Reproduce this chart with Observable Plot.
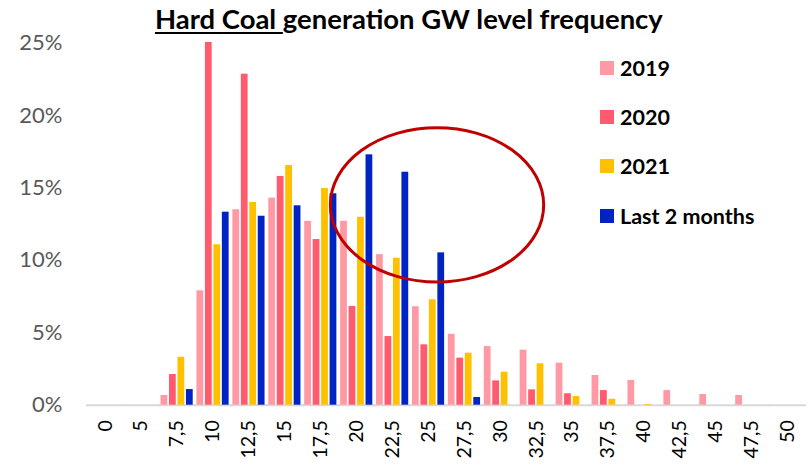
<!DOCTYPE html>
<html>
<head>
<meta charset="utf-8">
<script src="https://cdn.jsdelivr.net/npm/d3@7"></script>
<script src="https://cdn.jsdelivr.net/npm/@observablehq/plot@0.6"></script>
<style>
  html, body { margin: 0; padding: 0; background: #fff; }
  #wrap { position: relative; width: 810px; height: 464px; font-family: Lato, "Open Sans", sans-serif; overflow: hidden; }
  #title { position: absolute; top: 0; left: 155px; height: 38px; line-height: 38px; font-weight: bold; white-space: nowrap; color: #000; z-index: 2; }
  #title .u { text-decoration: underline; text-decoration-thickness: 2px; text-underline-offset: 3px; }
  #chart { position: absolute; top: 0; left: 0; }
  .lg { position: absolute; font-weight: bold; font-size: 21.5px; color: #000; white-space: nowrap; z-index: 2; }
  .sw { position: absolute; width: 14px; height: 14px; z-index: 2; }
</style>
</head>
<body>
<div id="wrap">
  <div id="title"><span class="u">Hard Coal </span>generation GW level frequency</div>
  <div id="chart"></div>
</div>
<script>
// ---- data ----
const titleText = "Hard Coal generation GW level frequency";
const categories = ["0","5","7,5","10","12,5","15","17,5","20","22,5","25","27,5","30","32,5","35","37,5","40","42,5","45","47,5","50"];
const series = ["2019", "2020", "2021", "Last 2 months"];
const colors = ["#ff9aa4", "#ff5a6e", "#ffc000", "#0024c4"];
const v2019 = [0, 0, 0.67, 7.9, 13.5, 14.3, 12.7, 12.7, 10.4, 6.8, 4.9, 4.05, 3.8, 2.9, 2.05, 1.71, 1.01, 0.74, 0.67, 0];
const v2020 = [0, 0, 2.12, 25.05, 22.86, 15.8, 11.44, 6.82, 4.74, 4.17, 3.25, 1.68, 1.06, 0.79, 1.01, 0, 0, 0, 0, 0];
const v2021 = [0, 0, 3.31, 11.08, 14.0, 16.55, 14.96, 12.98, 10.15, 7.28, 3.59, 2.28, 2.86, 0.6, 0.41, 0.05, 0, 0, 0, 0];
const vLast = [0, 0, 1.08, 13.33, 13.05, 13.77, 14.6, 17.29, 16.09, 10.52, 0.53, 0, 0, 0, 0, 0, 0, 0, 0, 0];
const yTicks = [0, 5, 10, 15, 20, 25];
// highlighted region (annotation ellipse), in data terms
const annoCat = "25", annoShift = 0.25, annoY = 13.8, annoRxSteps = 2.97, annoRy = 5.33;

// ---- build ----
const valuesBySeries = [v2019, v2020, v2021, vLast];
const data = categories.flatMap((c, i) => series.map((s, j) => ({cat: c, series: s, value: valuesBySeries[j][i]})));

// fit title width
(function(){
  const cv = document.createElement("canvas").getContext("2d");
  cv.font = "bold 28px Lato";
  const w = cv.measureText(titleText).width;
  const fs = 28 * 508 / w;
  document.getElementById("title").style.fontSize = fs.toFixed(2) + "px";
})();

const W = 810, H = 464, mL = 87, mR = 5, mT = 42.7, mB = 59.3;
const chart = Plot.plot({
  width: W,
  height: H,
  marginLeft: mL,
  marginRight: mR,
  marginTop: mT,
  marginBottom: mB,
  style: {fontFamily: "Lato, 'Open Sans', sans-serif", background: "transparent", overflow: "visible"},
  fx: {domain: categories, range: [mL, W - mR], padding: 0.01, round: false, label: null},
  x: {domain: series, padding: 0.2, round: false, axis: null},
  y: {domain: [0, 25], axis: null},
  color: {domain: series, range: colors},
  marks: [
    Plot.axisY({ticks: yTicks, tickFormat: d => d + "%", tickSize: 0, tickPadding: 25, fontSize: 22, fill: "#595959", label: null}),
    Plot.axisFx({anchor: "bottom", tickRotate: -90, tickSize: 0, tickPadding: 15, fontSize: 19.5, fill: "#000", label: null}),
    Plot.ruleY([0], {stroke: "#d9d9d9", strokeWidth: 2, insetLeft: -1, insetRight: -1}),
    Plot.barY(data, {fx: "cat", x: "series", y: "value", fill: "series"})
  ]
});
document.getElementById("chart").appendChild(chart);

// annotation ellipse using the plot's own scales
(function(){
  const fx = chart.scale("fx"), y = chart.scale("y");
  let fxPos, bw;
  if (typeof fx.apply === "function") {
    fxPos = v => fx.apply(v);
    bw = fx.bandwidth;
  } else {
    const s = d3.scaleBand(fx.domain, fx.range).padding(0.01);
    fxPos = v => s(v); bw = s.bandwidth();
  }
  const ys = typeof y.apply === "function" ? (v => y.apply(v)) : d3.scaleLinear(y.domain, y.range);
  const step = fxPos(categories[1]) - fxPos(categories[0]);
  const cx = fxPos(annoCat) + bw / 2 + annoShift * step;
  const cy = ys(annoY);
  const ry = Math.abs(ys(annoY + annoRy) - cy);
  const ns = "http://www.w3.org/2000/svg";
  const e = document.createElementNS(ns, "ellipse");
  e.setAttribute("cx", cx); e.setAttribute("cy", cy);
  e.setAttribute("rx", annoRxSteps * step); e.setAttribute("ry", ry);
  e.setAttribute("fill", "none"); e.setAttribute("stroke", "#c00000"); e.setAttribute("stroke-width", 3);
  chart.appendChild(e);
})();

// legend
(function(){
  const wrap = document.getElementById("wrap");
  series.forEach((s, i) => {
    const top = 60.7 + i * 49.3;
    const sw = document.createElement("div");
    sw.className = "sw"; sw.style.left = "600px"; sw.style.top = top + "px"; sw.style.background = colors[i];
    wrap.appendChild(sw);
    const t = document.createElement("div");
    t.className = "lg"; t.textContent = s; t.style.left = "620px";
    t.style.top = (top + 7 - 12) + "px"; t.style.lineHeight = "24px";
    wrap.appendChild(t);
  });
})();
</script>
</body>
</html>
